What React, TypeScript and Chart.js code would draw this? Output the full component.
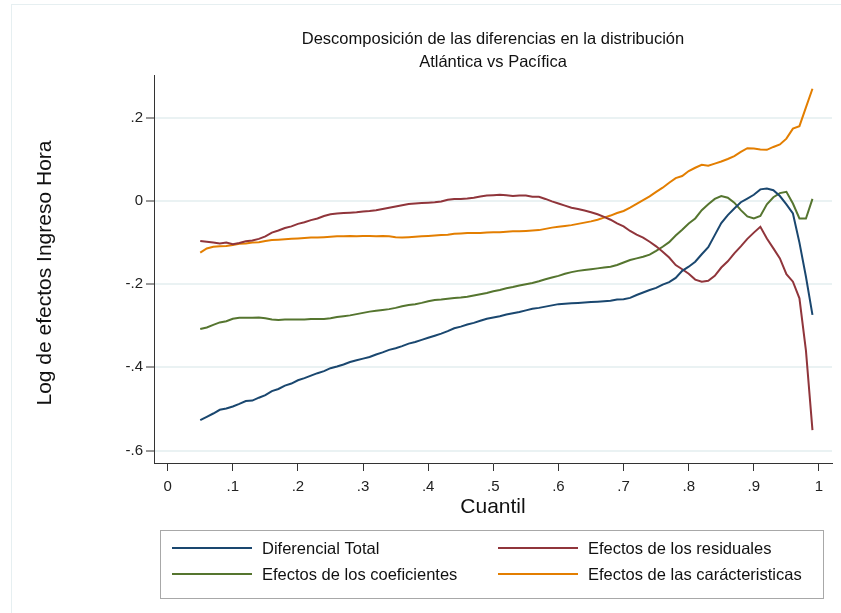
import React, { useEffect, useRef } from "react";
import { Chart, registerables } from "chart.js";

Chart.register(...registerables);

const cuantiles: number[] = [];
for (let i = 5; i <= 99; i++) cuantiles.push(i / 100);

const diferencialTotal = [
  -0.527, -0.519, -0.511, -0.502, -0.499, -0.494, -0.488, -0.481, -0.480, -0.473,
  -0.467, -0.457, -0.452, -0.444, -0.439, -0.431, -0.426, -0.420, -0.414, -0.409,
  -0.402, -0.398, -0.393, -0.387, -0.383, -0.379, -0.375, -0.369, -0.364, -0.358,
  -0.354, -0.349, -0.343, -0.339, -0.334, -0.329, -0.324, -0.319, -0.313, -0.306,
  -0.302, -0.297, -0.293, -0.288, -0.283, -0.280, -0.277, -0.273, -0.270, -0.267,
  -0.263, -0.259, -0.257, -0.254, -0.251, -0.248, -0.247, -0.246, -0.245, -0.244,
  -0.243, -0.242, -0.241, -0.240, -0.237, -0.236, -0.233, -0.226, -0.220, -0.214,
  -0.209, -0.201, -0.195, -0.185, -0.168, -0.158, -0.146, -0.128, -0.111, -0.082,
  -0.053, -0.034, -0.018, -0.003, 0.006, 0.015, 0.028, 0.030, 0.026, 0.012,
  -0.008, -0.030, -0.100, -0.182, -0.274,
];

const efectosResiduales = [
  -0.096, -0.098, -0.100, -0.102, -0.100, -0.104, -0.101, -0.097, -0.095, -0.091,
  -0.085, -0.076, -0.071, -0.065, -0.061, -0.055, -0.051, -0.046, -0.042, -0.036,
  -0.032, -0.030, -0.029, -0.028, -0.027, -0.025, -0.024, -0.022, -0.019, -0.016,
  -0.013, -0.010, -0.007, -0.006, -0.005, -0.004, -0.003, -0.001, 0.003, 0.005,
  0.005, 0.006, 0.008, 0.011, 0.013, 0.014, 0.015, 0.014, 0.012, 0.013,
  0.013, 0.010, 0.010, 0.005, -0.001, -0.006, -0.011, -0.016, -0.019, -0.023,
  -0.027, -0.032, -0.038, -0.045, -0.054, -0.061, -0.072, -0.081, -0.088, -0.098,
  -0.109, -0.122, -0.136, -0.154, -0.164, -0.175, -0.189, -0.194, -0.192, -0.180,
  -0.160, -0.145, -0.126, -0.109, -0.091, -0.076, -0.062, -0.090, -0.114, -0.138,
  -0.176, -0.194, -0.234, -0.360, -0.551,
];

const efectosCoeficientes = [
  -0.308, -0.304, -0.298, -0.292, -0.289, -0.283, -0.281, -0.281, -0.281, -0.280,
  -0.282, -0.285, -0.286, -0.285, -0.285, -0.285, -0.285, -0.284, -0.284, -0.284,
  -0.282, -0.279, -0.277, -0.275, -0.272, -0.269, -0.266, -0.264, -0.262, -0.260,
  -0.257, -0.253, -0.250, -0.248, -0.245, -0.241, -0.238, -0.237, -0.235, -0.233,
  -0.232, -0.230, -0.227, -0.224, -0.221, -0.217, -0.214, -0.210, -0.207, -0.203,
  -0.200, -0.197, -0.193, -0.188, -0.184, -0.180, -0.175, -0.171, -0.168, -0.166,
  -0.164, -0.162, -0.160, -0.158, -0.154, -0.148, -0.142, -0.138, -0.134, -0.129,
  -0.120, -0.110, -0.099, -0.083, -0.069, -0.054, -0.042, -0.022, -0.008, 0.005,
  0.012, 0.008, -0.004, -0.022, -0.037, -0.042, -0.036, -0.008, 0.009, 0.019,
  0.022, -0.006, -0.042, -0.042, 0.005,
];

const efectosCaracteristicas = [
  -0.124, -0.114, -0.110, -0.109, -0.108, -0.106, -0.103, -0.102, -0.100, -0.099,
  -0.096, -0.094, -0.093, -0.092, -0.091, -0.090, -0.089, -0.088, -0.088, -0.087,
  -0.086, -0.085, -0.085, -0.084, -0.085, -0.084, -0.084, -0.085, -0.084, -0.085,
  -0.087, -0.088, -0.087, -0.086, -0.085, -0.084, -0.083, -0.082, -0.081, -0.079,
  -0.078, -0.077, -0.077, -0.077, -0.076, -0.075, -0.075, -0.074, -0.073, -0.073,
  -0.072, -0.071, -0.070, -0.067, -0.064, -0.062, -0.060, -0.058, -0.055, -0.052,
  -0.049, -0.045, -0.040, -0.035, -0.029, -0.024, -0.016, -0.007, 0.002, 0.011,
  0.022, 0.032, 0.044, 0.055, 0.060, 0.072, 0.080, 0.087, 0.085, 0.090,
  0.095, 0.101, 0.108, 0.118, 0.127, 0.126, 0.124, 0.123, 0.130, 0.136,
  0.150, 0.174, 0.180, 0.225, 0.270,
];

const xTicks = [0, 0.1, 0.2, 0.3, 0.4, 0.5, 0.6, 0.7, 0.8, 0.9, 1];
const xTickLabels = ["0", ".1", ".2", ".3", ".4", ".5", ".6", ".7", ".8", ".9", "1"];
const yTicks = [-0.6, -0.4, -0.2, 0, 0.2];
const yTickLabels = ["-.6", "-.4", "-.2", "0", ".2"];

const seriesNames = [
  "Diferencial Total",
  "Efectos de los residuales",
  "Efectos de los coeficientes",
  "Efectos de las carácteristicas",
];
const seriesColors = ["#1a476f", "#90353b", "#55752f", "#e37e00"];

const titleLines = ["Descomposición de las diferencias en la distribución", "Atlántica vs Pacífica"];
const xTitle = "Cuantil";
const yTitle = "Log de efectos Ingreso Hora";

const FONT = "'Liberation Sans', Arial, Helvetica, sans-serif";

const decorPlugin = {
  id: "decor",
  beforeDraw(chart: any) {
    const ctx = chart.ctx;
    ctx.save();
    ctx.fillStyle = "#ffffff";
    ctx.fillRect(0, 0, chart.width, chart.height);
    ctx.strokeStyle = "#e6eff1";
    ctx.lineWidth = 1;
    ctx.strokeRect(11.5, 4.5, chart.width + 20, chart.height + 20);
    ctx.restore();
  },
  afterDraw(chart: any) {
    const ctx = chart.ctx;
    const a = chart.chartArea;
    const cx = (a.left + a.right) / 2;
    ctx.save();
    ctx.fillStyle = "#111";
    ctx.textAlign = "center";
    ctx.textBaseline = "middle";
    ctx.font = `16.5px ${FONT}`;
    ctx.fillText(titleLines[0], cx, 39);
    ctx.fillText(titleLines[1], cx, 62);
    ctx.font = `21px ${FONT}`;
    ctx.fillText(xTitle, cx, 507);
    ctx.save();
    ctx.translate(45, (a.top + a.bottom) / 2 + 4);
    ctx.rotate(-Math.PI / 2);
    ctx.fillText(yTitle, 0, 0);
    ctx.restore();

    // legend
    const lx = 160.5, ly = 530.5, lw = 663, lh = 68;
    ctx.fillStyle = "#fff";
    ctx.fillRect(lx, ly, lw, lh);
    ctx.strokeStyle = "#a8a8a8";
    ctx.lineWidth = 1;
    ctx.strokeRect(lx, ly, lw, lh);
    const cols = [172, 498];
    const rows = [548, 574];
    ctx.font = `16.5px ${FONT}`;
    ctx.textAlign = "left";
    seriesNames.forEach((name, k) => {
      const c = cols[k % 2];
      const r = rows[Math.floor(k / 2)];
      ctx.strokeStyle = seriesColors[k];
      ctx.lineWidth = 2;
      ctx.beginPath();
      ctx.moveTo(c, r);
      ctx.lineTo(c + 80, r);
      ctx.stroke();
      ctx.fillStyle = "#111";
      ctx.fillText(name, c + 90, r + 1);
    });
    ctx.restore();
  },
};

export default function App() {
  const ref = useRef<HTMLCanvasElement | null>(null);
  useEffect(() => {
    if (!ref.current) return;
    const allSeries = [diferencialTotal, efectosResiduales, efectosCoeficientes, efectosCaracteristicas];
    const chart = new Chart(ref.current, {
      type: "line",
      data: {
        datasets: allSeries.map((s, i) => ({
          label: seriesNames[i],
          data: s.map((v, j) => ({ x: cuantiles[j], y: v })),
          borderColor: seriesColors[i],
          backgroundColor: seriesColors[i],
          borderWidth: 2,
          pointRadius: 0,
          tension: 0,
          fill: false,
        })),
      },
      options: {
        animation: false,
        responsive: false,
        maintainAspectRatio: false,
        layout: { padding: { left: 0, right: 9, top: 75, bottom: 0 } },
        plugins: {
          legend: { display: false },
          title: { display: false },
          tooltip: { enabled: false },
        },
        scales: {
          x: {
            type: "linear",
            min: -0.021,
            max: 1.02,
            afterBuildTicks: (s: any) => {
              s.ticks = xTicks.map((v) => ({ value: v }));
            },
            afterFit: (s: any) => {
              s.height = 150;
            },
            ticks: {
              autoSkip: false,
              maxRotation: 0,
              padding: 7,
              color: "#222",
              font: { family: FONT, size: 15 },
              callback: (v: any) => {
                const i = xTicks.findIndex((t) => Math.abs(t - Number(v)) < 1e-9);
                return i >= 0 ? xTickLabels[i] : "";
              },
            },
            grid: {
              drawOnChartArea: false,
              drawTicks: true,
              tickLength: 8,
              tickColor: "#333",
              tickWidth: 1,
            },
            border: { display: true, color: "#333", width: 1 },
          },
          y: {
            type: "linear",
            min: -0.63,
            max: 0.303,
            afterBuildTicks: (s: any) => {
              s.ticks = yTicks.map((v) => ({ value: v }));
            },
            afterFit: (s: any) => {
              s.width = 154;
            },
            ticks: {
              autoSkip: false,
              padding: 3,
              color: "#222",
              font: { family: FONT, size: 15 },
              callback: (v: any) => {
                const i = yTicks.findIndex((t) => Math.abs(t - Number(v)) < 1e-9);
                return i >= 0 ? yTickLabels[i] : "";
              },
            },
            grid: {
              color: "#eaf2f3",
              lineWidth: 2,
              drawTicks: true,
              tickLength: 8,
              tickColor: "#333",
              tickWidth: 1,
            },
            border: { display: true, color: "#333", width: 1 },
          },
        },
      },
      plugins: [decorPlugin],
    });
    return () => chart.destroy();
  }, []);
  return (
    <div style={{ position: "fixed", left: 0, top: 0, width: 841, height: 613 }}>
      <canvas ref={ref} width={841} height={613} style={{ width: 841, height: 613, display: "block" }} />
    </div>
  );
}
